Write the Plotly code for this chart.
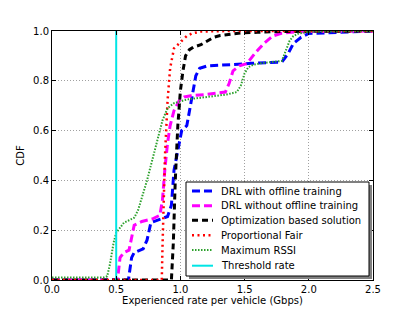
import plotly.graph_objects as go

# DRL with offline training
drl_off_x = [0.0, 0.595, 0.62, 0.64, 0.71, 0.74, 0.77, 0.85, 0.90, 0.93, 0.95, 0.98, 1.01, 1.05, 1.07, 1.09, 1.12, 1.15, 1.21, 1.40, 1.55, 1.79, 1.84, 1.88, 1.94, 2.0, 2.2, 2.5]
drl_off_y = [0.0, 0.0, 0.09, 0.11, 0.125, 0.16, 0.23, 0.245, 0.255, 0.30, 0.44, 0.52, 0.60, 0.62, 0.68, 0.74, 0.82, 0.85, 0.86, 0.865, 0.87, 0.875, 0.91, 0.95, 0.975, 0.99, 0.995, 1.0]

# DRL without offline training
drl_no_x = [0.0, 0.51, 0.53, 0.56, 0.60, 0.62, 0.64, 0.70, 0.78, 0.84, 0.86, 0.88, 0.90, 0.92, 0.95, 0.99, 1.03, 1.08, 1.20, 1.35, 1.38, 1.41, 1.46, 1.52, 1.58, 1.65, 1.72, 1.78, 1.9, 2.5]
drl_no_y = [0.0, 0.0, 0.09, 0.11, 0.12, 0.17, 0.22, 0.235, 0.245, 0.26, 0.32, 0.45, 0.55, 0.62, 0.68, 0.72, 0.735, 0.74, 0.745, 0.755, 0.79, 0.84, 0.86, 0.87, 0.91, 0.95, 0.98, 0.99, 0.997, 1.0]

# Optimization based solution
opt_x = [0.0, 0.93, 0.945, 0.96, 0.98, 1.0, 1.02, 1.04, 1.07, 1.10, 1.16, 1.21, 1.26, 1.31, 1.40, 1.47, 1.6, 1.8, 2.5]
opt_y = [0.0, 0.0, 0.15, 0.40, 0.62, 0.76, 0.84, 0.90, 0.925, 0.935, 0.945, 0.96, 0.975, 0.982, 0.988, 0.992, 0.995, 0.998, 1.0]

# Proportional Fair
pf_x = [0.0, 0.855, 0.86, 0.87, 0.88, 0.90, 0.92, 0.95, 0.98, 1.01, 1.05, 1.09, 1.16, 1.4, 2.5]
pf_y = [0.0, 0.0, 0.12, 0.30, 0.50, 0.72, 0.85, 0.93, 0.945, 0.96, 0.98, 0.99, 0.998, 1.0, 1.0]

# Maximum RSSI
rssi_x = [0.0, 0.40, 0.43, 0.45, 0.48, 0.50, 0.53, 0.56, 0.60, 0.64, 0.67, 0.70, 0.74, 0.78, 0.82, 0.86, 0.90, 0.95, 1.05, 1.20, 1.36, 1.44, 1.47, 1.50, 1.53, 1.57, 1.62, 1.79, 1.82, 1.85, 1.88, 1.92, 2.0, 2.5]
rssi_y = [0.01, 0.01, 0.015, 0.06, 0.15, 0.19, 0.21, 0.23, 0.24, 0.25, 0.28, 0.33, 0.40, 0.48, 0.56, 0.64, 0.69, 0.71, 0.725, 0.735, 0.745, 0.755, 0.78, 0.83, 0.855, 0.865, 0.87, 0.88, 0.92, 0.96, 0.98, 0.99, 0.997, 1.0]

threshold_rate = 0.5

x_ticks = [0.0, 0.5, 1.0, 1.5, 2.0, 2.5]
y_ticks = [0.0, 0.2, 0.4, 0.6, 0.8, 1.0]

series_names = ["DRL with offline training", "DRL without offline training",
                "Optimization based solution", "Proportional Fair", "Maximum RSSI", "Threshold rate"]
series_colors = ["#0000ff", "#ff00ff", "#000000", "#ff0000", "#2ca02c", "#00e5e5"]
series_widths = [3, 3, 3, 2.5, 2, 2]
series_dash = ["8px,4px", "8px,4px", "6px,4px", "2px,3.5px", "1.5px,1.5px", "solid"]

W, H = 415, 312
L, R, T, B = 52, 42, 31, 32
PW, PH = W - L - R, H - T - B


def px(xp):
    return (xp - L) / PW


def py(yp):
    return (H - B - yp) / PH


fig = go.Figure()
xs = [drl_off_x, drl_no_x, opt_x, pf_x, rssi_x, [threshold_rate, threshold_rate]]
ys = [drl_off_y, drl_no_y, opt_y, pf_y, rssi_y, [0, 1]]
for i in range(6):
    fig.add_trace(go.Scatter(x=xs[i], y=ys[i], mode="lines", name=series_names[i],
                             line=dict(color=series_colors[i], width=series_widths[i], dash=series_dash[i]),
                             showlegend=False))

# manual legend (matplotlib style, with shadow)
shapes = []
annotations = []
lx0, lx1, ly0, ly1 = 186, 369, 182, 276
shapes.append(dict(type="rect", xref="paper", yref="paper", x0=px(lx0 + 3), x1=px(lx1 + 3),
                   y0=py(ly1 + 3), y1=py(ly0 + 3), fillcolor="#808080", line=dict(width=0), layer="above"))
shapes.append(dict(type="rect", xref="paper", yref="paper", x0=px(lx0), x1=px(lx1),
                   y0=py(ly1), y1=py(ly0), fillcolor="white", line=dict(color="black", width=1), layer="above"))
row_y = [191, 205.7, 220.3, 235.3, 250, 265.7]
for i in range(6):
    shapes.append(dict(type="line", xref="paper", yref="paper", x0=px(192), x1=px(213),
                       y0=py(row_y[i]), y1=py(row_y[i]),
                       line=dict(color=series_colors[i], width=series_widths[i], dash=series_dash[i]),
                       layer="above"))
    annotations.append(dict(xref="paper", yref="paper", x=px(219), y=py(row_y[i]), xanchor="left",
                            yanchor="middle", text=series_names[i], showarrow=False,
                            font=dict(size=10, color="black")))

font_family = "DejaVu Sans"
fig.update_layout(
    width=W, height=H,
    margin=dict(l=L, r=R, t=T, b=B, autoexpand=False),
    paper_bgcolor="white", plot_bgcolor="white",
    font=dict(family=font_family, size=10, color="black"),
    xaxis=dict(range=[0, 2.5], tickvals=x_ticks, ticktext=[f"{v:.1f}" for v in x_ticks],
               showgrid=True, gridcolor="#a0a0a0", griddash="1px,2px", gridwidth=1,
               showline=True, linecolor="black", linewidth=1, mirror="ticks",
               ticks="inside", ticklen=4, tickcolor="black", zeroline=False,
               title=dict(text="Experienced rate per vehicle (Gbps)", standoff=2, font=dict(size=10))),
    yaxis=dict(range=[0, 1.0], tickvals=y_ticks, ticktext=[f"{v:.1f}" for v in y_ticks],
               showgrid=True, gridcolor="#a0a0a0", griddash="1px,2px", gridwidth=1,
               showline=True, linecolor="black", linewidth=1, mirror="ticks",
               ticks="inside", ticklen=4, tickcolor="black", zeroline=False,
               title=dict(text="CDF", standoff=6, font=dict(size=10))),
    shapes=shapes,
    annotations=annotations,
    showlegend=False,
)

fig.write_html("out.html", config={"displayModeBar": False},
               post_script="document.body.style.margin='0px';")
